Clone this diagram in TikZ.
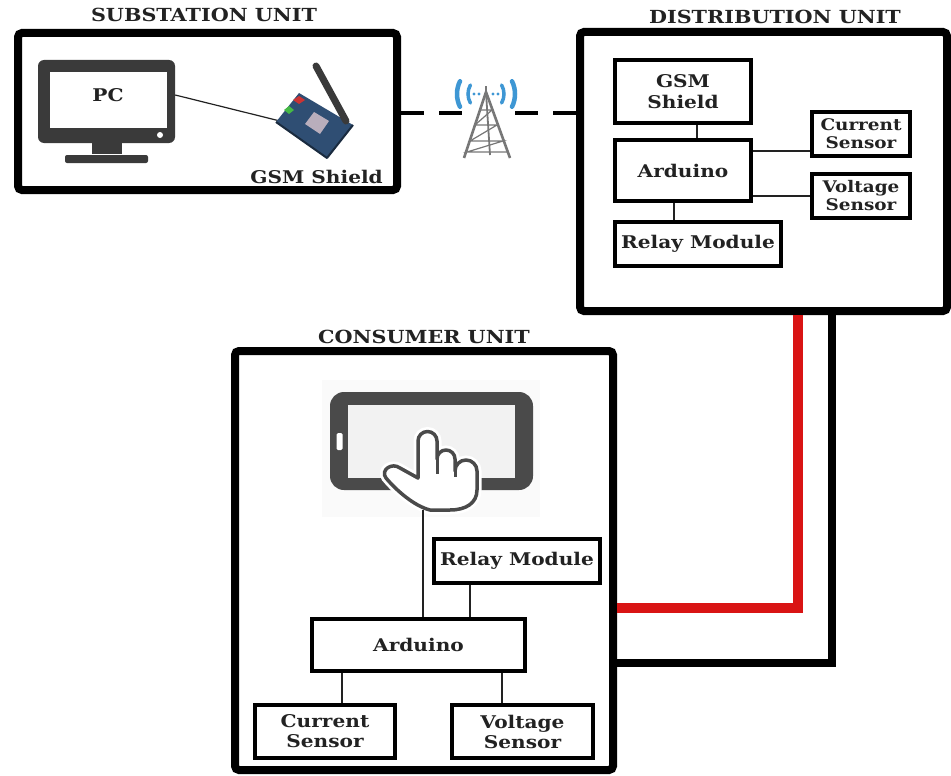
\documentclass[tikz,border=0pt]{standalone}
\usepackage{fontspec}
\setmainfont{DejaVu Serif}[FakeStretch=1.15]
\usetikzlibrary{calc}
\definecolor{ink}{HTML}{222222}
\definecolor{icon}{HTML}{3A3A3A}
\definecolor{tabgray}{HTML}{4A4A4A}
\definecolor{wirered}{HTML}{D91414}
\definecolor{wave}{HTML}{3E97D4}
\definecolor{steel}{HTML}{777777}
\definecolor{board}{HTML}{2F4E73}
\definecolor{chip}{HTML}{B9AEBC}

\begin{document}
\begin{tikzpicture}[x=1pt,y=1pt,
  unit/.style={draw=black, line width=8pt, rounded corners=4pt, inner sep=0pt},
  part/.style={draw=black, line width=4.5pt, fill=white, inner sep=0pt, align=center,
               text=ink, font=\bfseries\fontsize{17.5}{21}\selectfont},
  sensor/.style={part, font=\bfseries\fontsize{16}{18}\selectfont},
  csensor/.style={part, font=\bfseries\fontsize{17.5}{20}\selectfont},
  label/.style={text=ink, inner sep=0pt, font=\bfseries\fontsize{17.5}{21}\selectfont},
  title/.style={text=ink, inner sep=0pt, font=\bfseries\fontsize{18}{20}\selectfont},
  link/.style={draw=ink, line width=1.3pt},
  dashlink/.style={draw=black, line width=4pt, dash pattern=on 23pt off 15pt},
  redwire/.style={draw=wirered, line width=10pt, line join=miter},
  blackwire/.style={draw=black, line width=8pt, line join=miter},
  wavearc/.style={draw=wave, line cap=round},
]
\useasboundingbox (0,0) rectangle (951,-776);
\fill[white] (0,0) rectangle (951,-776);

% ---------- unit frames ----------
\node[unit, minimum width=379pt, minimum height=157pt] (sub)  at (207.5,-111.5) {};
\node[unit, minimum width=367pt, minimum height=279pt] (dist) at (763.5,-171.5) {};
\node[unit, minimum width=378pt, minimum height=419pt] (cons) at (424,-560.5) {};

\node[title] (subt)  at (204,-15)  {SUBSTATION UNIT};
\node[title] (distt) at (775,-17)  {DISTRIBUTION UNIT};
\node[title] (const) at (424,-337) {CONSUMER UNIT};

% ---------- wires between distribution and consumer ----------
\coordinate (rc) at (798,-608);
\coordinate (bc) at (832,-663);
\draw[redwire]   (rc |- dist.south) -- (rc) -- (rc -| cons.east);
\draw[blackwire] (bc |- dist.south) -- (bc) -- (bc -| cons.east);

% ---------- GSM air link ----------
\coordinate (airy) at (0,-113);
\draw[dashlink] (sub.east |- airy) -- (dist.west |- airy);

% cell tower
\node[fill=white, minimum width=42pt, minimum height=76pt, inner sep=0pt] (tower) at (487,-122) {};
\draw[steel, line width=2.6pt, line join=round] (464,-158) -- (486,-92) -- (510,-158);
\draw[steel, line width=1.8pt] (486,-92) -- (490,-155);
\draw[steel, line width=1.2pt]
  (480,-110) -- (492,-110) -- (475,-125) -- (497,-125) -- (470,-141) -- (503,-141)
  -- (467,-152) -- (507,-152);
\draw[steel, line width=1.6pt] (486,-92) -- (486,-86);
\draw[wavearc, line width=3.5pt] (486,-94) ++(150:18pt) arc[start angle=150, end angle=210, radius=18pt];
\draw[wavearc, line width=3.5pt] (486,-94) ++(-30:18pt) arc[start angle=-30, end angle=30, radius=18pt];
\draw[wavearc, line width=4.5pt] (486,-94) ++(154:29pt) arc[start angle=154, end angle=206, radius=29pt];
\draw[wavearc, line width=4.5pt] (486,-94) ++(-26:29pt) arc[start angle=-26, end angle=26, radius=29pt];
\foreach \dx in {-12,-7,7,12} \fill[wave] (486+\dx,-94) circle (1.6pt);

% ---------- substation: PC and GSM shield ----------
\node[fill=icon, rounded corners=6pt, minimum width=137pt, minimum height=83pt, inner sep=0pt] (pc) at (106.5,-101.5) {};
\node[fill=white, minimum width=117pt, minimum height=56pt, inner sep=0pt] (screen) at (108.5,-100) {};
\node[label] (pclabel) at (108,-95) {PC};
\fill[white] (160,-135) circle (3pt);
\fill[icon] (92,-143) rectangle (122,-154);
\fill[icon, rounded corners=2pt] (65,-155) rectangle (148,-163);

\coordinate (shield) at (280,-121);
\draw[link, line width=1.2pt] ([yshift=6.5pt]pc.east) -- (shield);

\fill[board] (276,-122) -- (299,-93) -- (353,-125) -- (327,-158) -- cycle;
\draw[board!55!black, line width=2pt, line join=round] (276,-122) -- (327,-158) -- (353,-125);
\fill[chip] (305,-124) -- (314,-112) -- (329,-121) -- (320,-134) -- cycle;
\fill[red!60!gray] (293,-100) -- (299,-96) -- (305,-100) -- (299,-104) -- cycle;
\fill[green!45!gray] (284,-110) -- (289,-106) -- (294,-110) -- (289,-114) -- cycle;
\draw[icon, line width=7pt, line cap=round] (346,-121) -- (316,-66);
\node[label, anchor=east] (shieldlbl) at (383,-177) {GSM Shield};

% ---------- distribution unit ----------
\node[part, minimum width=136pt, minimum height=63pt] (dgsm)   at (683,-91.5)  {GSM\\Shield};
\node[part, minimum width=136pt, minimum height=61pt] (dard)   at (683,-170.5) {Arduino};
\node[part, minimum width=166pt, minimum height=44pt] (drelay) at (698,-244)   {Relay Module};
\node[sensor, minimum width=98pt, minimum height=44pt] (dcur)  at (861,-134)   {Current\\Sensor};
\node[sensor, minimum width=98pt, minimum height=44pt] (dvolt) at (861,-196)   {Voltage\\Sensor};

\draw[link] ([xshift=14pt]dgsm.south) -- ([xshift=14pt]dard.north);
\draw[link] ([xshift=-9pt]dard.south) -- ([xshift=-9pt]dard.south |- drelay.north);
\draw[link] ([yshift=19.5pt]dard.east) -- ([yshift=19.5pt]dard.east -| dcur.west);
\draw[link] (dvolt.west -| dard.east) -- (dvolt.west);

% ---------- consumer unit: tablet with touching hand ----------
\fill[black!2] (322,-380) rectangle (540,-517);
\node[fill=tabgray, rounded corners=14pt, minimum width=203pt, minimum height=98pt, inner sep=0pt] (tab) at (431.5,-441) {};
\fill[black!5] (348,-405) rectangle (515,-478);
\fill[white, rounded corners=1.5pt] (336.5,-433) rectangle (342.5,-450);

\path[draw=tabgray, fill=white, line width=3.5pt, line join=round,
      preaction={draw=white, line width=9pt}]
  (418,-478) -- (418,-441) arc[start angle=180, end angle=0, radius=9.5pt]
  -- (437,-459) arc[start angle=180, end angle=0, radius=9pt]
  -- (455,-471) arc[start angle=180, end angle=0, radius=11pt]
  -- (477,-490) .. controls (477,-503) and (466,-510) .. (450,-510)
  -- (430,-510) .. controls (414,-506) and (396,-490) .. (386,-478)
  .. controls (380,-470) and (392,-462) .. (400,-468)
  -- cycle;
\draw[tabgray, line width=3pt] (437,-459) -- (437,-474);
\draw[tabgray, line width=3pt] (455,-471) -- (455,-477);
\coordinate (handbase) at (423,-510);

\node[part, minimum width=166pt, minimum height=44pt] (crelay) at (517,-561)   {Relay Module};
\node[part, minimum width=213pt, minimum height=52pt] (card)   at (418.5,-645) {Arduino};
\node[csensor, minimum width=140pt, minimum height=53pt] (ccur)  at (325,-731.5)   {Current\\Sensor};
\node[csensor, minimum width=141pt, minimum height=53pt] (cvolt) at (522.5,-731.5) {Voltage\\Sensor};

\draw[link] (handbase) -- (handbase |- card.north);
\draw[link] ([xshift=-47pt]crelay.south) -- ([xshift=-47pt]crelay.south |- card.north);
\draw[link] ([xshift=-76.5pt]card.south) -- ([xshift=-76.5pt]card.south |- ccur.north);
\draw[link] ([xshift=83.5pt]card.south) -- ([xshift=83.5pt]card.south |- cvolt.north);
\end{tikzpicture}
\end{document}
